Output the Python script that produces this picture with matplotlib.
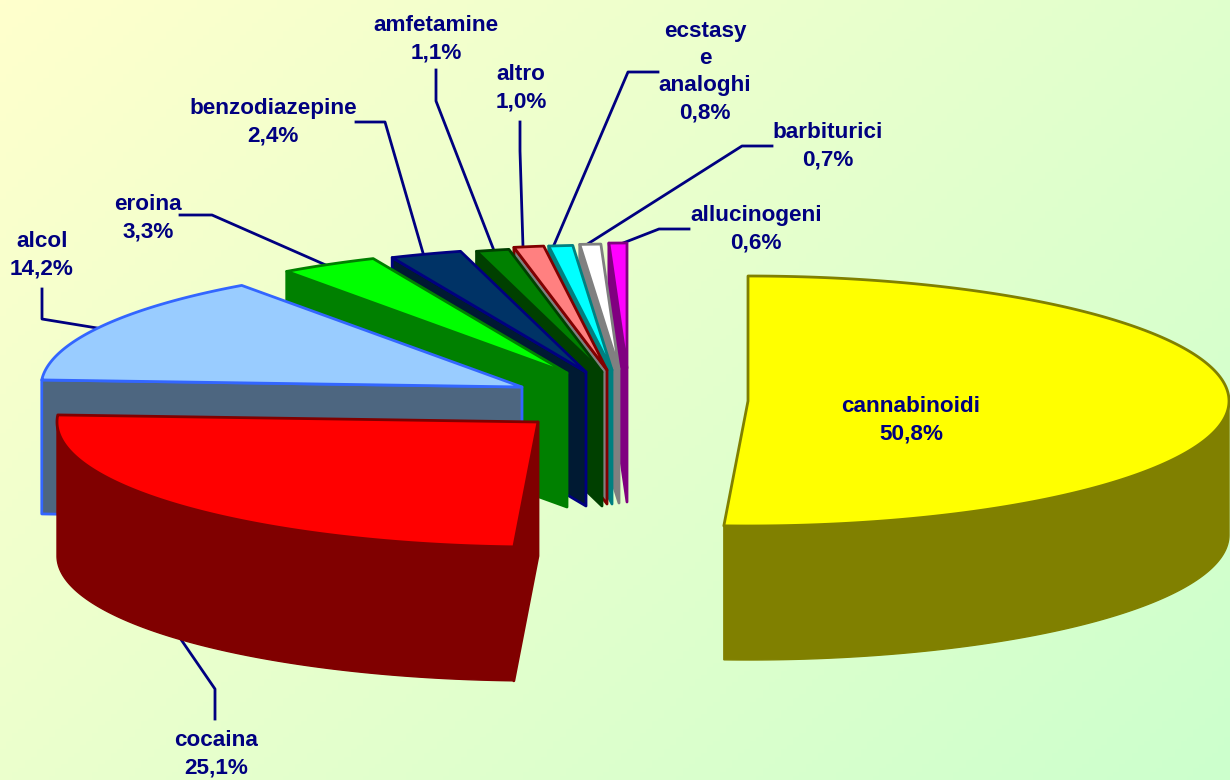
import numpy as np
import matplotlib
matplotlib.use("Agg")
import matplotlib.pyplot as plt
from matplotlib.patches import Polygon

plt.rcParams['font.family'] = ['Liberation Sans', 'DejaVu Sans']

names = ['cannabinoidi', 'cocaina', 'alcol', 'eroina', 'benzodiazepine', 'amfetamine',
         'altro', 'ecstasy\ne\nanaloghi', 'barbiturici', 'allucinogeni']
values = [50.8, 25.1, 14.2, 3.3, 2.4, 1.1, 1.0, 0.8, 0.7, 0.6]
top_colors = ['#ffff00', '#ff0000', '#99ccff', '#00ff00', '#003366', '#008000',
              '#ff8080', '#00ffff', '#ffffff', '#ff00ff']
side_colors = ['#808000', '#800000', '#4d6680', '#008000', '#001a33', '#004000',
               '#808080', '#008080', '#808080', '#800080']
edge_colors = ['#808000', '#800000', '#3366ff', '#008000', '#000080', '#004000',
               '#800000', '#008080', '#808080', '#800080']

# where each exploded slice has its tip, in pixels
tips = [(748, 401), (538, 422), (522, 387), (567, 373), (586, 372), (602, 372),
        (607, 370), (612, 370), (619, 369), (627, 368)]
rx = 481
ry = 125
depth = 134

label_pos = [(911, 420), (216, 754), (42, 255), (148, 218), (273, 122), (436, 39),
             (521, 88), (705, 72), (828, 146), (756, 229)]
leaders = [None,
           [(215, 719), (215, 689), (180, 638)],
           [(42, 289), (42, 319), (97, 328)],
           [(180, 215), (212, 215), (328, 266)],
           [(356, 122), (385, 122), (423, 253)],
           [(436, 70), (436, 101), (493, 248)],
           [(520, 122), (520, 151), (523, 247)],
           [(658, 72), (628, 72), (554, 245)],
           [(772, 146), (742, 146), (586, 245)],
           [(689, 229), (659, 229), (618, 245)]]

fig = plt.figure(figsize=(12.3, 7.8), dpi=100)
ax = fig.add_axes([0, 0, 1, 1])
ax.set_xlim(0, 1230)
ax.set_ylim(780, 0)
ax.axis('off')

# background, light yellow to light green on the diagonal
gx, gy = np.meshgrid(np.linspace(0, 1, 200), np.linspace(0, 1, 200))
g = (gx * 1230 + gy * 780) / (1230 + 780)
bg = np.zeros((200, 200, 3))
bg[..., 0] = 1.0 - 0.2 * g
bg[..., 1] = 1.0
bg[..., 2] = 0.8
ax.imshow(bg, extent=(0, 1230, 780, 0), aspect='auto', zorder=0)


def rim(cx, cy, a1, a2, dy=0):
    a = np.radians(np.linspace(a1, a2, max(int(a2 - a1) * 2, 2)))
    return np.column_stack([cx + rx * np.sin(a), cy - ry * np.cos(a) + dy])


stops = np.cumsum([0] + values) / sum(values) * 360

# left slices sit over the right ones, so draw from the last one back
for i in [0] + list(range(len(values) - 1, 0, -1)):
    cx, cy = tips[i]
    a1, a2 = stops[i], stops[i + 1]

    # outer wall, only the near half of the rim shows
    w1, w2 = max(a1, 90), min(a2, 270)
    if w2 > w1:
        wall = np.vstack([rim(cx, cy, w1, w2), rim(cx, cy, w1, w2, depth)[::-1]])
        ax.add_patch(Polygon(wall, fc=side_colors[i], ec=side_colors[i], lw=1, zorder=2))

    # cut face on the start edge
    if i > 0:
        p = rim(cx, cy, a1, a1 + 0.01)[0]
        face = [(cx, cy), p, (p[0], p[1] + depth), (cx, cy + depth)]
        ax.add_patch(Polygon(face, fc=side_colors[i], ec=edge_colors[i], lw=2, joinstyle='round', zorder=2))

    top = np.vstack([[(cx, cy)], rim(cx, cy, a1, a2)])
    ax.add_patch(Polygon(top, fc=top_colors[i], ec=edge_colors[i], lw=2, joinstyle='round', zorder=2))

for i, name in enumerate(names):
    if leaders[i] is not None:
        pts = np.array(leaders[i])
        ax.plot(pts[:, 0], pts[:, 1], color='#000080', lw=2, zorder=1)
    s = name + '\n' + ('%.1f%%' % values[i]).replace('.', ',')
    ax.text(label_pos[i][0], label_pos[i][1], s, ha='center', va='center', color='#000080',
            fontsize=16.2, fontweight='bold', linespacing=1.38, zorder=21)

fig.savefig('out.png', dpi=100)
